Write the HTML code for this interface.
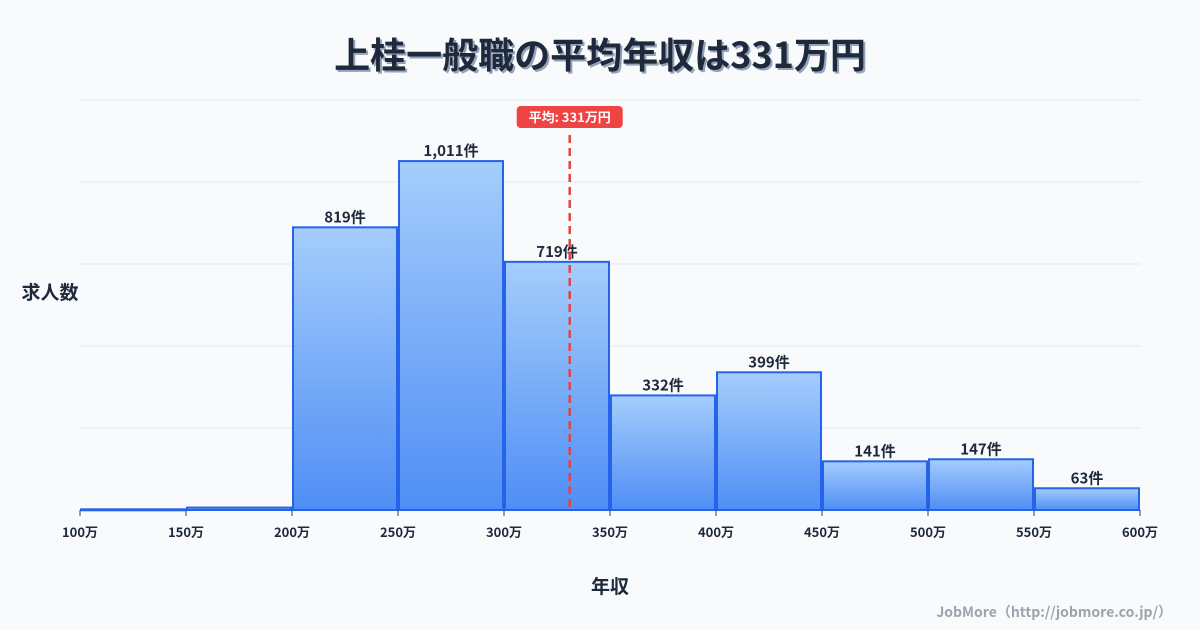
<!DOCTYPE html>
<html><head><meta charset="utf-8"><style>
body{margin:0;background:#f8fafc;font-family:"Noto Sans CJK JP",sans-serif;}
#wrap{position:relative;width:1200px;height:630px;overflow:hidden;}
</style></head><body>
<div id="wrap">
<svg id="chart" width="1200" height="630" xmlns="http://www.w3.org/2000/svg">
<defs><linearGradient id="g" x1="0" y1="0" x2="0" y2="1"><stop offset="0" stop-color="#a5cdfc"/><stop offset="1" stop-color="#4f8ef5"/></linearGradient></defs>
<text x="600" y="68" text-anchor="middle" font-size="36" font-weight="bold" fill="#94a3b8" font-family="Noto Sans CJK JP,sans-serif" transform="translate(2,2)">上桂一般職の平均年収は331万円</text>
<text x="600" y="68" text-anchor="middle" font-size="36" font-weight="bold" fill="#1e293b" font-family="Noto Sans CJK JP,sans-serif">上桂一般職の平均年収は331万円</text>
<g id="grid"></g><g id="bars"></g><g id="axis"></g><g id="mean"></g>
<text x="50" y="299" text-anchor="middle" font-size="19" font-weight="bold" fill="#1e293b" font-family="Noto Sans CJK JP,sans-serif">求人数</text>
<text x="610" y="593" text-anchor="middle" font-size="19" font-weight="bold" fill="#1e293b" font-family="Noto Sans CJK JP,sans-serif">年収</text>
<text x="1172" y="617" text-anchor="end" font-size="14" font-weight="bold" fill="#9ca3af" font-family="Noto Sans CJK JP,sans-serif">JobMore（http://jobmore.co.jp/）</text>
</svg></div>
<script>
const binStarts=[100,150,200,250,300,350,400,450,500,550];
const counts=[2,7,819,1011,719,332,399,141,147,63];
const tickLabels=["100万","150万","200万","250万","300万","350万","400万","450万","500万","550万","600万"];
const meanValue=331;
const NS="http://www.w3.org/2000/svg";
const X0=80,X1=1140,Y0=510,YT=100,xMin=100,xMax=600;
const yMax=Math.max(...counts)*1.175;
const xs=v=>X0+(v-xMin)/(xMax-xMin)*(X1-X0);
const ys=v=>Y0-v/yMax*(Y0-YT);
function mk(t,a,p){const e=document.createElementNS(NS,t);for(const k in a)e.setAttribute(k,a[k]);document.getElementById(p).appendChild(e);return e;}
for(let i=0;i<=5;i++){const y=Y0-i*(Y0-YT)/5;const l=mk('line',{x1:X0,x2:X1,y1:y,y2:y,stroke:'#e5e7eb','stroke-width':1},'grid');

}
const F="Noto Sans CJK JP,sans-serif";
counts.forEach((c,i)=>{const x=xs(binStarts[i])+1,w=xs(binStarts[i]+50)-xs(binStarts[i])-2,y=ys(c);
const r=mk('rect',{x:x,y:y,width:w,height:Math.max(Y0-y,1),fill:'url(#g)',stroke:'#2563eb','stroke-width':2},'bars');


if(c>20){const t=mk('text',{x:x+w/2,y:y-5,'text-anchor':'middle','font-size':15,'font-weight':'bold',fill:'#1e293b','font-family':F},'bars');t.textContent=c.toLocaleString('en-US')+'件';

}});
tickLabels.forEach((s,i)=>{const x=xs(xMin+i*50);const l=mk('line',{x1:x,x2:x,y1:Y0,y2:Y0+6,stroke:'#334155','stroke-width':1},'axis');


const t=mk('text',{x:x,y:Y0+27,'text-anchor':'middle','font-size':13,'font-weight':'bold',fill:'#1e293b','font-family':F},'axis');t.textContent=s;

});
const mx=xs(meanValue);
const ml=mk('line',{x1:mx,x2:mx,y1:135,y2:Y0,stroke:'#e04444','stroke-width':2.5,'stroke-dasharray':'8,5'},'mean');


const mb=mk('rect',{x:mx-53,y:106,width:106,height:22,rx:4,fill:'#ef4444'},'mean');


const mt=mk('text',{x:mx,y:122,'text-anchor':'middle','font-size':13,'font-weight':'bold',fill:'#fff','font-family':F},'mean');mt.textContent='平均: '+meanValue+'万円';


</script></body></html>
